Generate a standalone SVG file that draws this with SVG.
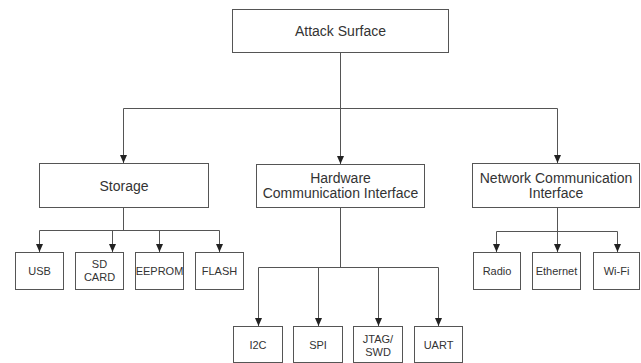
<svg xmlns="http://www.w3.org/2000/svg" width="641" height="363" viewBox="0 0 641 363">
<style>
.box{fill:#fff;stroke:#555;stroke-width:1}
.t{font-family:"Liberation Sans",Arial,sans-serif;fill:#333;text-anchor:middle}
.big{font-size:14px}
.sm{font-size:11px}
.c{fill:none;stroke:#555;stroke-width:1}
</style>
<defs>
<marker id="ah" viewBox="0 0 8 8" refX="8" refY="4" markerWidth="8" markerHeight="8" markerUnits="userSpaceOnUse" orient="auto">
<path d="M0,0.5 L8,4 L0,7.5 z" fill="#222"/>
</marker>
</defs>
<rect width="641" height="363" fill="#fff"/>
<g id="connectors">
<path class="c" d="M340.5,53 V108.5"/>
<path class="c" d="M123.5,108.5 H557.5"/>
<path class="c" d="M123.5,108.5 V163" marker-end="url(#ah)"/>
<path class="c" d="M340.5,108.5 V164" marker-end="url(#ah)"/>
<path class="c" d="M557.5,108.5 V163" marker-end="url(#ah)"/>
<path class="c" d="M123.5,208 V230.5 M39.5,230.5 H219.5"/>
<path class="c" d="M39.5,230.5 V252" marker-end="url(#ah)"/>
<path class="c" d="M112.5,230.5 V252" marker-end="url(#ah)"/>
<path class="c" d="M159.5,230.5 V252" marker-end="url(#ah)"/>
<path class="c" d="M219.5,230.5 V252" marker-end="url(#ah)"/>
<path class="c" d="M340.5,208 V267.5 M258.5,267.5 H438.5"/>
<path class="c" d="M258.5,267.5 V326" marker-end="url(#ah)"/>
<path class="c" d="M318.5,267.5 V326" marker-end="url(#ah)"/>
<path class="c" d="M378.5,267.5 V326" marker-end="url(#ah)"/>
<path class="c" d="M438.5,267.5 V326" marker-end="url(#ah)"/>
<path class="c" d="M557.5,208 V231.5 M496.5,231.5 H617.5"/>
<path class="c" d="M496.5,231.5 V252" marker-end="url(#ah)"/>
<path class="c" d="M557.5,231.5 V252" marker-end="url(#ah)"/>
<path class="c" d="M617.5,231.5 V252" marker-end="url(#ah)"/>
</g>
<g id="attack-surface"><rect class="box" x="232.5" y="9.5" width="216" height="43"/><text class="t big" x="340.5" y="36">Attack Surface</text></g>
<g id="storage"><rect class="box" x="39.5" y="163.5" width="169" height="44"/><text class="t big" x="124" y="191">Storage</text></g>
<g id="hardware"><rect class="box" x="256.5" y="164.5" width="168" height="43"/><text class="t big" x="340.5" y="183">Hardware</text><text class="t big" x="340.5" y="198">Communication Interface</text></g>
<g id="network"><rect class="box" x="472.5" y="163.5" width="167" height="44"/><text class="t big" x="556" y="183">Network Communication</text><text class="t big" x="556" y="198">Interface</text></g>
<g id="usb"><rect class="box" x="15.5" y="252.5" width="48" height="37"/><text class="t sm" x="39.5" y="275">USB</text></g>
<g id="sdcard"><rect class="box" x="75.5" y="252.5" width="48" height="37"/><text class="t sm" x="99.5" y="268">SD</text><text class="t sm" x="99.5" y="281">CARD</text></g>
<g id="eeprom"><rect class="box" x="135.5" y="252.5" width="48" height="37"/><text class="t sm" x="159.5" y="275">EEPROM</text></g>
<g id="flash"><rect class="box" x="195.5" y="252.5" width="48" height="37"/><text class="t sm" x="219.5" y="275">FLASH</text></g>
<g id="i2c"><rect class="box" x="233.5" y="326.5" width="49" height="36"/><text class="t sm" x="258" y="349">I2C</text></g>
<g id="spi"><rect class="box" x="293.5" y="326.5" width="49" height="36"/><text class="t sm" x="318" y="349">SPI</text></g>
<g id="jtag"><rect class="box" x="353.5" y="326.5" width="49" height="36"/><text class="t sm" x="378" y="343">JTAG/</text><text class="t sm" x="378" y="356">SWD</text></g>
<g id="uart"><rect class="box" x="414.5" y="326.5" width="48" height="36"/><text class="t sm" x="438.5" y="349">UART</text></g>
<g id="radio"><rect class="box" x="473.5" y="252.5" width="47" height="37"/><text class="t sm" x="497" y="275">Radio</text></g>
<g id="ethernet"><rect class="box" x="532.5" y="252.5" width="48" height="37"/><text class="t sm" x="556.5" y="275">Ethernet</text></g>
<g id="wifi"><rect class="box" x="593.5" y="252.5" width="46" height="37"/><text class="t sm" x="616.5" y="275">Wi-Fi</text></g>
</svg>
